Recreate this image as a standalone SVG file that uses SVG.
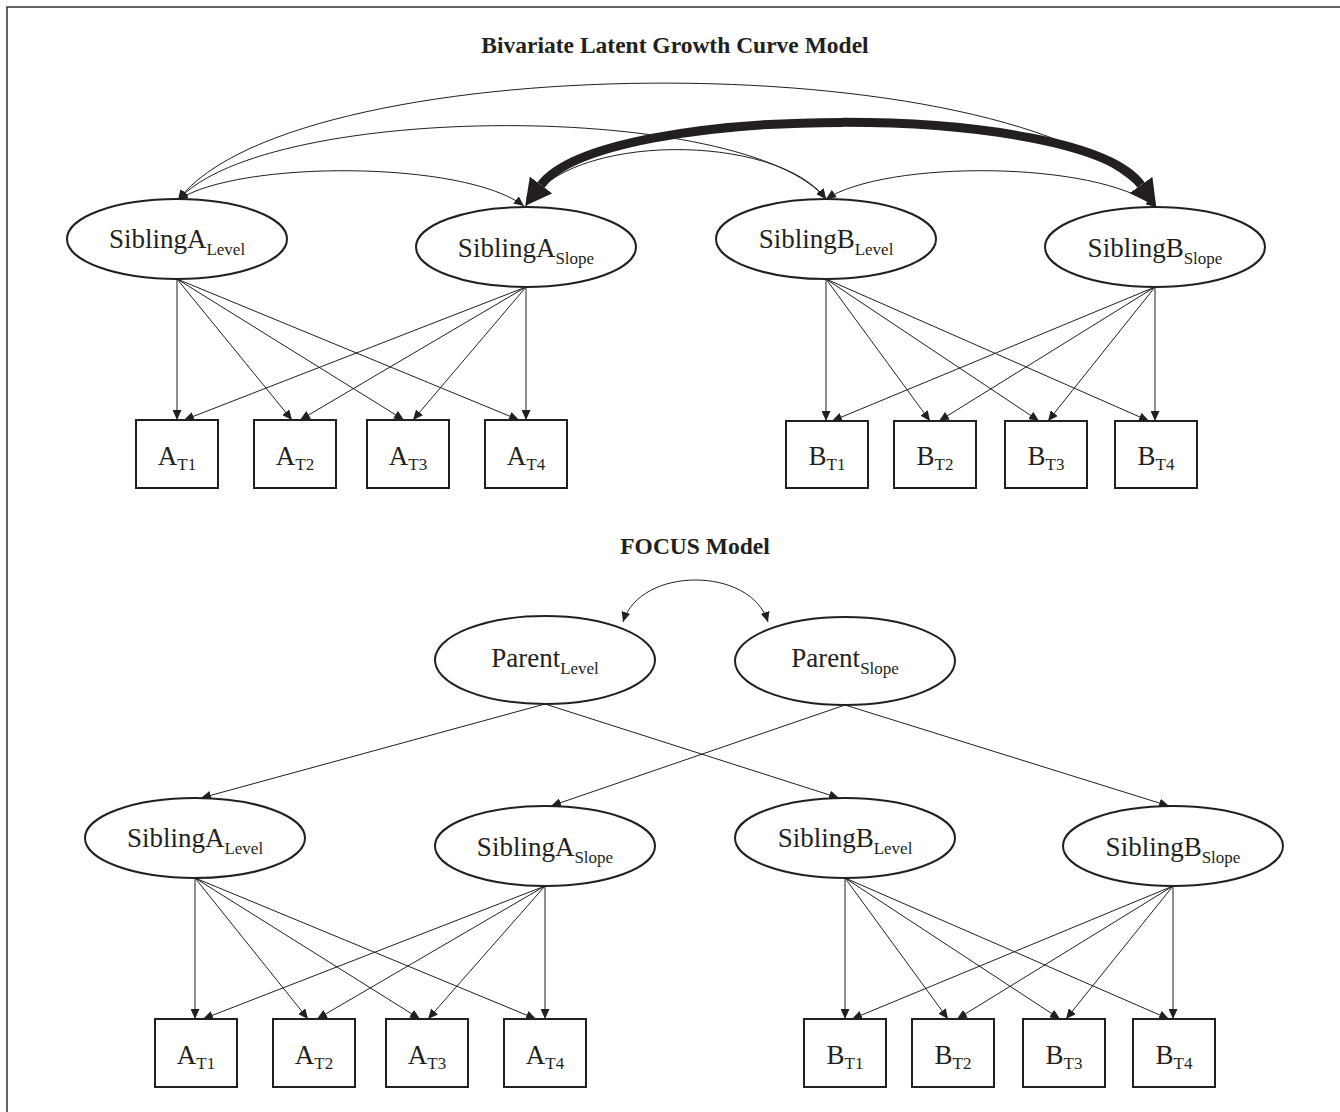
<svg xmlns="http://www.w3.org/2000/svg" width="1340" height="1112" viewBox="0 0 1340 1112">
<defs>
<style>
.bg{fill:#ffffff}
.frame{fill:none;stroke:#333;stroke-width:1.5}
.node ellipse,.node rect{fill:#fff;stroke:#231f20;stroke-width:2}
.lbl{font-family:"Liberation Serif","Times New Roman",serif;font-size:27px;fill:#231f20}
.sub{font-size:17px}
.title{font-family:"Liberation Serif","Times New Roman",serif;font-size:23.5px;font-weight:bold;fill:#231f20}
.ln{fill:none;stroke:#231f20;stroke-width:1}
.arr{marker-end:url(#ah)}
.cov{marker-start:url(#ah);marker-end:url(#ah)}
.thick{fill:none;stroke:#231f20;stroke-width:9;marker-start:url(#ahb);marker-end:url(#ahb)}
</style>
<marker id="ah" viewBox="0 0 10 9" refX="10" refY="4.5" markerWidth="10" markerHeight="9" markerUnits="userSpaceOnUse" orient="auto-start-reverse"><path d="M0,0 L10,4.5 L0,9 z" fill="#231f20"/></marker>
<marker id="ahb" viewBox="0 0 26 28" refX="0" refY="14" markerWidth="26" markerHeight="28" markerUnits="userSpaceOnUse" orient="auto-start-reverse"><path d="M0,0 L26,14 L0,28 z" fill="#231f20"/></marker>
</defs>
<rect class="bg" x="0" y="0" width="1340" height="1112"/>
<path class="frame" d="M7,1112 V7 H1340"/>

<text class="title" x="675" y="53" text-anchor="middle">Bivariate Latent Growth Curve Model</text>
<text class="title" x="695" y="554" text-anchor="middle">FOCUS Model</text>

<g id="connectors">
<!-- top covariances -->
<path class="ln cov" d="M178,200 C298,43 1046,43 1156,207"/>
<path class="ln cov" d="M178,200 C268,101 746,101 826,199"/>
<path class="ln cov" d="M178,200 C238,160 464,160 524,206"/>
<path class="ln cov" d="M526,206 C566,132 776,132 826,199"/>
<path class="ln cov" d="M826,199 C886,160 1096,160 1156,207"/>
<path class="thick" d="M541,185 C604,102 1081,101 1141,185"/>
<!-- top loadings A -->
<path class="ln arr" d="M177,279 L177,420"/>
<path class="ln arr" d="M177,279 L292,420"/>
<path class="ln arr" d="M177,279 L404,420"/>
<path class="ln arr" d="M177,279 L519,420"/>
<path class="ln arr" d="M526,287 L184,420"/>
<path class="ln arr" d="M526,287 L300,420"/>
<path class="ln arr" d="M526,287 L413,420"/>
<path class="ln arr" d="M526,287 L526,420"/>
<!-- top loadings B -->
<path class="ln arr" d="M826,279 L826,421"/>
<path class="ln arr" d="M826,279 L930,421"/>
<path class="ln arr" d="M826,279 L1039,421"/>
<path class="ln arr" d="M826,279 L1149,421"/>
<path class="ln arr" d="M1155,287 L832,421"/>
<path class="ln arr" d="M1155,287 L939,421"/>
<path class="ln arr" d="M1155,287 L1048,421"/>
<path class="ln arr" d="M1155,287 L1155,421"/>
<!-- parent covariance -->
<path class="ln cov" d="M623,622 C640,566 751,566 768,622"/>
<!-- parent paths -->
<path class="ln arr" d="M545,704 L201,798"/>
<path class="ln arr" d="M545,704 L839,798"/>
<path class="ln arr" d="M845,705 L551,806"/>
<path class="ln arr" d="M845,705 L1169,806"/>
<!-- bottom loadings A -->
<path class="ln arr" d="M195,878 L195,1019"/>
<path class="ln arr" d="M195,878 L308,1019"/>
<path class="ln arr" d="M195,878 L420,1019"/>
<path class="ln arr" d="M195,878 L536,1019"/>
<path class="ln arr" d="M545,886 L203,1019"/>
<path class="ln arr" d="M545,886 L317,1019"/>
<path class="ln arr" d="M545,886 L428,1019"/>
<path class="ln arr" d="M545,886 L545,1019"/>
<!-- bottom loadings B -->
<path class="ln arr" d="M845,878 L845,1019"/>
<path class="ln arr" d="M845,878 L948,1019"/>
<path class="ln arr" d="M845,878 L1060,1019"/>
<path class="ln arr" d="M845,878 L1169,1019"/>
<path class="ln arr" d="M1173,886 L852,1019"/>
<path class="ln arr" d="M1173,886 L957,1019"/>
<path class="ln arr" d="M1173,886 L1066,1019"/>
<path class="ln arr" d="M1173,886 L1173,1019"/>
</g>

<!-- top section nodes -->
<g id="top-sibA-level" class="node"><ellipse cx="177" cy="239" rx="110" ry="40"/><text class="lbl" x="177" y="248" text-anchor="middle">SiblingA<tspan class="sub" dy="7">Level</tspan></text></g>
<g id="top-sibA-slope" class="node"><ellipse cx="526" cy="247" rx="110" ry="40"/><text class="lbl" x="526" y="257" text-anchor="middle">SiblingA<tspan class="sub" dy="7">Slope</tspan></text></g>
<g id="top-sibB-level" class="node"><ellipse cx="826" cy="239" rx="110" ry="40"/><text class="lbl" x="826" y="248" text-anchor="middle">SiblingB<tspan class="sub" dy="7">Level</tspan></text></g>
<g id="top-sibB-slope" class="node"><ellipse cx="1155" cy="247" rx="110" ry="40"/><text class="lbl" x="1155" y="257" text-anchor="middle">SiblingB<tspan class="sub" dy="7">Slope</tspan></text></g>

<g id="top-AT1" class="node"><rect x="136" y="420" width="82" height="68"/><text class="lbl" x="177" y="465" text-anchor="middle">A<tspan class="sub" dy="5">T1</tspan></text></g>
<g id="top-AT2" class="node"><rect x="254" y="420" width="82" height="68"/><text class="lbl" x="295" y="465" text-anchor="middle">A<tspan class="sub" dy="5">T2</tspan></text></g>
<g id="top-AT3" class="node"><rect x="367" y="420" width="82" height="68"/><text class="lbl" x="408" y="465" text-anchor="middle">A<tspan class="sub" dy="5">T3</tspan></text></g>
<g id="top-AT4" class="node"><rect x="485" y="420" width="82" height="68"/><text class="lbl" x="526" y="465" text-anchor="middle">A<tspan class="sub" dy="5">T4</tspan></text></g>
<g id="top-BT1" class="node"><rect x="786" y="421" width="82" height="67"/><text class="lbl" x="827" y="465" text-anchor="middle">B<tspan class="sub" dy="5">T1</tspan></text></g>
<g id="top-BT2" class="node"><rect x="894" y="421" width="82" height="67"/><text class="lbl" x="935" y="465" text-anchor="middle">B<tspan class="sub" dy="5">T2</tspan></text></g>
<g id="top-BT3" class="node"><rect x="1005" y="421" width="82" height="67"/><text class="lbl" x="1046" y="465" text-anchor="middle">B<tspan class="sub" dy="5">T3</tspan></text></g>
<g id="top-BT4" class="node"><rect x="1115" y="421" width="82" height="67"/><text class="lbl" x="1156" y="465" text-anchor="middle">B<tspan class="sub" dy="5">T4</tspan></text></g>

<!-- FOCUS model nodes -->
<g id="parent-level" class="node"><ellipse cx="545" cy="660" rx="110" ry="44"/><text class="lbl" x="545" y="667" text-anchor="middle">Parent<tspan class="sub" dy="7">Level</tspan></text></g>
<g id="parent-slope" class="node"><ellipse cx="845" cy="661" rx="110" ry="44"/><text class="lbl" x="845" y="667" text-anchor="middle">Parent<tspan class="sub" dy="7">Slope</tspan></text></g>

<g id="bot-sibA-level" class="node"><ellipse cx="195" cy="838" rx="110" ry="40"/><text class="lbl" x="195" y="847" text-anchor="middle">SiblingA<tspan class="sub" dy="7">Level</tspan></text></g>
<g id="bot-sibA-slope" class="node"><ellipse cx="545" cy="846" rx="110" ry="40"/><text class="lbl" x="545" y="856" text-anchor="middle">SiblingA<tspan class="sub" dy="7">Slope</tspan></text></g>
<g id="bot-sibB-level" class="node"><ellipse cx="845" cy="838" rx="110" ry="40"/><text class="lbl" x="845" y="847" text-anchor="middle">SiblingB<tspan class="sub" dy="7">Level</tspan></text></g>
<g id="bot-sibB-slope" class="node"><ellipse cx="1173" cy="846" rx="110" ry="40"/><text class="lbl" x="1173" y="856" text-anchor="middle">SiblingB<tspan class="sub" dy="7">Slope</tspan></text></g>

<g id="bot-AT1" class="node"><rect x="155" y="1019" width="82" height="68"/><text class="lbl" x="196" y="1064" text-anchor="middle">A<tspan class="sub" dy="5">T1</tspan></text></g>
<g id="bot-AT2" class="node"><rect x="273" y="1019" width="82" height="68"/><text class="lbl" x="314" y="1064" text-anchor="middle">A<tspan class="sub" dy="5">T2</tspan></text></g>
<g id="bot-AT3" class="node"><rect x="386" y="1019" width="82" height="68"/><text class="lbl" x="427" y="1064" text-anchor="middle">A<tspan class="sub" dy="5">T3</tspan></text></g>
<g id="bot-AT4" class="node"><rect x="504" y="1019" width="82" height="68"/><text class="lbl" x="545" y="1064" text-anchor="middle">A<tspan class="sub" dy="5">T4</tspan></text></g>
<g id="bot-BT1" class="node"><rect x="804" y="1019" width="82" height="68"/><text class="lbl" x="845" y="1064" text-anchor="middle">B<tspan class="sub" dy="5">T1</tspan></text></g>
<g id="bot-BT2" class="node"><rect x="912" y="1019" width="82" height="68"/><text class="lbl" x="953" y="1064" text-anchor="middle">B<tspan class="sub" dy="5">T2</tspan></text></g>
<g id="bot-BT3" class="node"><rect x="1023" y="1019" width="82" height="68"/><text class="lbl" x="1064" y="1064" text-anchor="middle">B<tspan class="sub" dy="5">T3</tspan></text></g>
<g id="bot-BT4" class="node"><rect x="1133" y="1019" width="82" height="68"/><text class="lbl" x="1174" y="1064" text-anchor="middle">B<tspan class="sub" dy="5">T4</tspan></text></g>
</svg>
